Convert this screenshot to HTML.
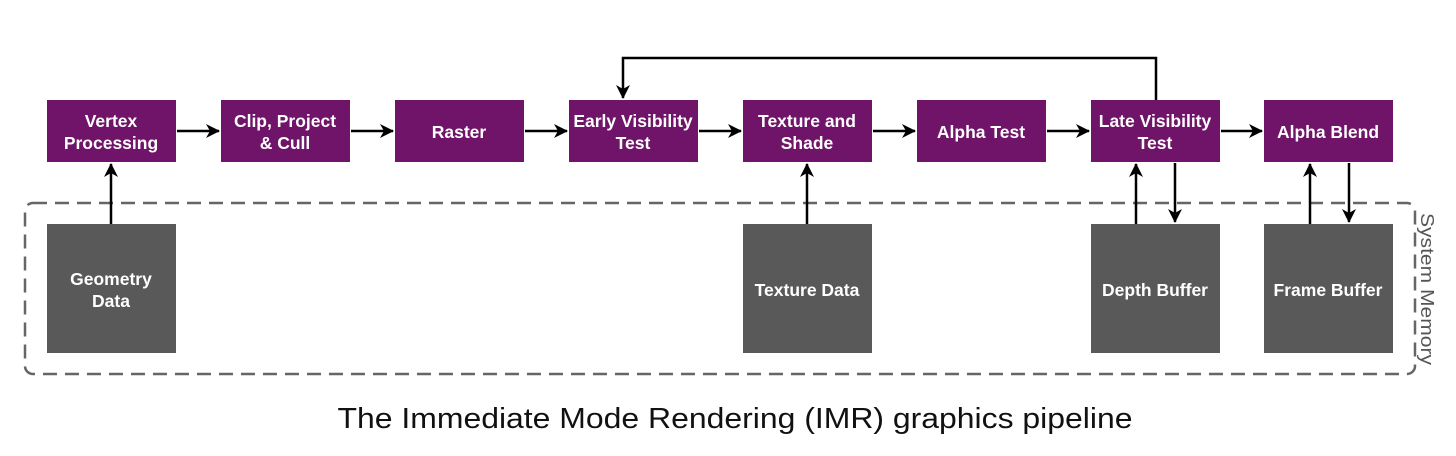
<!DOCTYPE html>
<html><head><meta charset="utf-8"><style>
body{margin:0;background:#fff;}
svg text{font-family:"Liberation Sans",sans-serif;}
</style></head><body>
<svg width="1456" height="451" viewBox="0 0 1456 451" xmlns="http://www.w3.org/2000/svg">
<defs>
<marker id="b" markerWidth="14" markerHeight="14" refX="13" refY="7" orient="auto" markerUnits="userSpaceOnUse">
<path d="M0,0 L14,7 L0,14 L4,7 z" fill="#000"/>
</marker>
</defs>
<rect x="25" y="203" width="1390" height="171" rx="8" fill="none" stroke="#666" stroke-width="2.5" stroke-dasharray="14,8"/>
<g fill="#6f1468">
<rect x="47" y="100" width="129" height="62"/>
<rect x="221" y="100" width="129" height="62"/>
<rect x="395" y="100" width="129" height="62"/>
<rect x="569" y="100" width="129" height="62"/>
<rect x="743" y="100" width="129" height="62"/>
<rect x="917" y="100" width="129" height="62"/>
<rect x="1091" y="100" width="129" height="62"/>
<rect x="1264" y="100" width="129" height="62"/>
</g>
<g fill="#595959">
<rect x="47" y="224" width="129" height="129"/>
<rect x="743" y="224" width="129" height="129"/>
<rect x="1091" y="224" width="129" height="129"/>
<rect x="1264" y="224" width="129" height="129"/>
</g>
<g stroke="#000" stroke-width="2.5" fill="none" marker-end="url(#b)">
<line x1="177" y1="131" x2="219" y2="131"/>
<line x1="351" y1="131" x2="393" y2="131"/>
<line x1="525" y1="131" x2="567" y2="131"/>
<line x1="699" y1="131" x2="741" y2="131"/>
<line x1="873" y1="131" x2="915" y2="131"/>
<line x1="1047" y1="131" x2="1089" y2="131"/>
<line x1="1221" y1="131" x2="1262" y2="131"/>
<line x1="111" y1="224" x2="111" y2="164"/>
<line x1="807" y1="224" x2="807" y2="164"/>
<line x1="1136" y1="224" x2="1136" y2="164"/>
<line x1="1175" y1="163" x2="1175" y2="222"/>
<line x1="1310" y1="224" x2="1310" y2="164"/>
<line x1="1349" y1="163" x2="1349" y2="222"/>
<polyline points="1156,100 1156,58 623,58 623,98"/>
</g>
<g fill="#fff" font-weight="bold" font-size="17.5" text-anchor="middle">
<text x="111" y="127">Vertex</text><text x="111" y="149">Processing</text>
<text x="285" y="127">Clip, Project</text><text x="285" y="149">&amp; Cull</text>
<text x="459" y="138">Raster</text>
<text x="633" y="127">Early Visibility</text><text x="633" y="149">Test</text>
<text x="807" y="127">Texture and</text><text x="807" y="149">Shade</text>
<text x="981" y="138">Alpha Test</text>
<text x="1155" y="127">Late Visibility</text><text x="1155" y="149">Test</text>
<text x="1328" y="138">Alpha Blend</text>
<text x="111" y="285">Geometry</text><text x="111" y="307">Data</text>
<text x="807" y="296">Texture Data</text>
<text x="1155" y="296">Depth Buffer</text>
<text x="1328" y="296">Frame Buffer</text>
</g>
<text x="1427" y="289" font-size="18" fill="#555" text-anchor="middle" textLength="152" lengthAdjust="spacingAndGlyphs" transform="rotate(90 1427 289)" dy="6">System Memory</text>
<text x="735" y="428" font-size="29" fill="#111" text-anchor="middle" textLength="795" lengthAdjust="spacingAndGlyphs">The Immediate Mode Rendering (IMR) graphics pipeline</text>
</svg>
</body></html>
